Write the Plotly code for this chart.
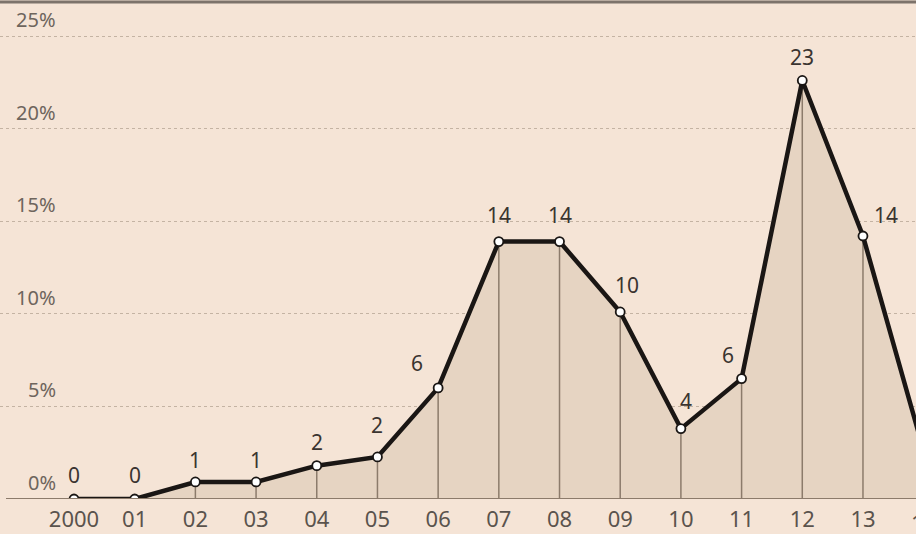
import plotly.graph_objects as go

years = ["2000", "01", "02", "03", "04", "05", "06", "07", "08", "09", "10", "11", "12", "13", "14"]
values = [0.0, 0.0, 0.92, 0.92, 1.8, 2.27, 6.0, 13.9, 13.9, 10.1, 3.8, 6.5, 22.6, 14.2, 2.6]
labels = ["0", "0", "1", "1", "2", "2", "6", "14", "14", "10", "4", "6", "23", "14", "3"]
y_ticks = [0, 5, 10, 15, 20, 25]
y_tick_text = ["0%", "5%", "10%", "15%", "20%", "25%"]

# label offsets (pixels) - styling only
label_dx = [0, 0, 0, 0, 0, 0, -21, 0, 0, 7, 5, -14, 0, 23, 0]
label_dy = [24, 24, 22, 22, 24, 32, 25, 27, 27, 27, 28, 24, 23, 21, 24]

BG = "#f5e4d6"
FILL = "#e6d4c2"
DROP = "#8c7b6b"

xs = list(range(len(years)))
XR = [-74 / 60.69, (916 - 74) / 60.69]

fig = go.Figure()

# filled area
fig.add_trace(go.Scatter(x=xs, y=values, mode="lines", fill="tozeroy",
                         fillcolor=FILL, line=dict(width=0), hoverinfo="skip"))

# drop lines
dx, dy = [], []
for x, v in zip(xs, values):
    dx += [x, x, None]
    dy += [0, v, None]
fig.add_trace(go.Scatter(x=dx, y=dy, mode="lines", line=dict(color=DROP, width=1.5),
                         hoverinfo="skip"))

# main line
fig.add_trace(go.Scatter(x=xs, y=values, mode="lines+markers",
                         line=dict(color="#1a1614", width=4.5),
                         marker=dict(size=9, color="white", line=dict(color="#1a1614", width=1.8))))

ann = []
for x, v, t, ddx, ddy in zip(xs, values, labels, label_dx, label_dy):
    ann.append(dict(x=x, y=v, text=t, showarrow=False, xshift=ddx, yshift=ddy,
                    font=dict(family="Noto Sans", size=21, color="#3a3430"),
                    xanchor="center", yanchor="middle"))
for v, t in zip(y_ticks, y_tick_text):
    ann.append(dict(x=58 / 916, xref="paper", y=v, yref="y", text=t, showarrow=False,
                    xanchor="right", yanchor="bottom", yshift=1,
                    font=dict(family="Noto Sans", size=20, color="#6e655d")))
# tick labels falling beyond the visible range (partially clipped at right edge, as in source)
for x, t in zip(xs, years):
    if x > XR[1]:
        ann.append(dict(x=(x - XR[0]) / (XR[1] - XR[0]), xref="paper", y=0, yref="paper",
                        text=t, showarrow=False, xanchor="center", yanchor="top", yshift=-6,
                        font=dict(family="Noto Sans", size=22, color="#5a534d")))

fig.update_layout(
    width=916, height=534,
    margin=dict(l=0, r=0, t=0, b=35),
    paper_bgcolor=BG, plot_bgcolor=BG,
    showlegend=False,
    annotations=ann,
    shapes=[dict(type="line", xref="paper", yref="paper", x0=0, x1=1,
                 y0=1 - 2 / 499, y1=1 - 2 / 499, line=dict(color="#7d736b", width=3))],
)
fig.update_xaxes(range=XR, tickmode="array", tickvals=xs,
                 ticktext=years, showgrid=False, zeroline=False, showline=False,
                 ticks="", ticklabelstandoff=5,
                 tickfont=dict(family="Noto Sans", size=22, color="#5a534d"))
fig.update_yaxes(range=[0, 499 / 18.52], tickvals=y_ticks, showticklabels=False,
                 showgrid=True, gridcolor="#c4b3a3", griddash="dot", gridwidth=1,
                 zeroline=False, showline=False)
fig.add_shape(type="line", xref="paper", yref="y", x0=6 / 916, x1=1, y0=0, y1=0,
              line=dict(color=DROP, width=2))

fig.write_html("out.html")
